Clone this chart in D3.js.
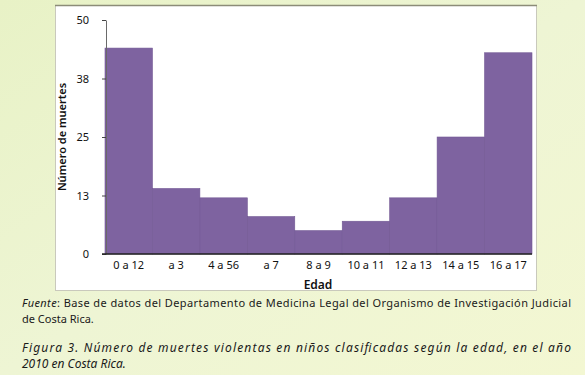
<!DOCTYPE html>
<html>
<head>
<meta charset="utf-8">
<script src="https://cdn.jsdelivr.net/npm/d3@7"></script>
<style>
  body { margin: 0; padding: 0; }
  svg { display: block; }
  .axis text { font-family: "Noto Sans", sans-serif; font-size: 11px; fill: #111; }
  .caption { font-family: "Noto Sans", sans-serif; fill: #1a1a1a; }
</style>
</head>
<body>
<svg id="chart" width="585" height="375"></svg>
<script>
var ageGroups = ['0 a 12', 'a 3', '4 a 56', 'a 7', '8 a 9', '10 a 11', '12 a 13', '14 a 15', '16 a 17']
var deaths = [44, 14, 12, 8, 5, 7, 12, 25, 43]
var yTicks = [0, 12.5, 25, 37.5, 50]
var yTickLabels = ['0', '13', '25', '38', '50']

var W = 585
,   H = 375
,   barColor = '#7e63a0'

var svg = d3.select('#chart')

// soft green page background
var defs = svg.append('defs')
var grad = defs.append('linearGradient')
  .attr('id', 'bg')
  .attr('x1', 0).attr('y1', 0).attr('x2', 1).attr('y2', 1)
grad.append('stop').attr('offset', '0%').attr('stop-color', '#e8f2c6')
grad.append('stop').attr('offset', '50%').attr('stop-color', '#eef5d4')
grad.append('stop').attr('offset', '100%').attr('stop-color', '#f3f7d2')

svg.append('rect')
  .attr('width', W).attr('height', H)
  .attr('fill', 'url(#bg)')

// white chart frame
svg.append('rect')
  .attr('x', 55.5).attr('y', 5.5)
  .attr('width', 481).attr('height', 285)
  .attr('fill', '#fff')
  .attr('stroke', '#c9c9bc')
svg.append('line')
  .attr('x1', 55).attr('x2', 537)
  .attr('y1', 5.5).attr('y2', 5.5)
  .attr('stroke', '#8c8c78')
  .attr('stroke-width', 1.5)

var x = d3.scaleBand()
  .domain(ageGroups)
  .range([105, 532])
  .padding(0)

var y = d3.scaleLinear()
  .domain([0, 50])
  .range([254, 20])

svg.selectAll('.bar')
  .data(deaths)
  .enter()
  .append('rect')
  .attr('class', 'bar')
  .attr('x', (d, i) => x(ageGroups[i]))
  .attr('y', (d) => y(d))
  .attr('width', x.bandwidth())
  .attr('height', (d) => y(0) - y(d))
  .attr('fill', barColor)
  .attr('stroke', '#725894')
  .attr('stroke-width', 0.6)

// y axis
var yAxis = svg.append('g')
  .attr('class', 'axis')
  .attr('transform', 'translate(106,0)')
  .call(d3.axisLeft(y)
    .tickValues(yTicks)
    .tickFormat((d, i) => yTickLabels[i])
    .tickSize(4)
    .tickSizeOuter(0)
    .tickPadding(13))
yAxis.select('.domain').attr('stroke', '#6a6a6a')
yAxis.selectAll('.tick line').attr('stroke', '#444')

// x axis
var xAxis = svg.append('g')
  .attr('class', 'axis')
  .attr('transform', 'translate(0,254)')
  .call(d3.axisBottom(x).tickSize(0).tickPadding(7))
xAxis.select('.domain').remove()
svg.append('line')
  .attr('x1', 102).attr('x2', 532)
  .attr('y1', 254).attr('y2', 254)
  .attr('stroke', '#222')
  .attr('stroke-width', 1.5)

// axis titles
svg.append('text')
  .attr('x', 318).attr('y', 289)
  .attr('text-anchor', 'middle')
  .attr('font-family', '"Noto Sans", sans-serif')
  .attr('font-size', 12)
  .attr('font-weight', 600)
  .attr('fill', '#111')
  .text('Edad')

svg.append('text')
  .attr('transform', 'translate(66,137) rotate(-90)')
  .attr('text-anchor', 'middle')
  .attr('font-family', '"Noto Sans", sans-serif')
  .attr('font-size', 11)
  .attr('font-weight', 600)
  .attr('fill', '#111')
  .text('Número de muertes')

// source + caption
var src1 = svg.append('text')
  .attr('class', 'caption')
  .attr('x', 22).attr('y', 307)
  .attr('font-size', 11)
  .attr('textLength', 549)
  .attr('lengthAdjust', 'spacing')
src1.append('tspan').attr('font-style', 'italic').text('Fuente')
src1.append('tspan').text(': Base de datos del Departamento de Medicina Legal del Organismo de Investigación Judicial')

svg.append('text')
  .attr('class', 'caption')
  .attr('x', 22).attr('y', 323)
  .attr('font-size', 11)
  .text('de Costa Rica.')

svg.append('text')
  .attr('class', 'caption')
  .attr('x', 22).attr('y', 352)
  .attr('font-size', 12)
  .attr('font-style', 'italic')
  .attr('textLength', 549)
  .attr('lengthAdjust', 'spacing')
  .text('Figura 3. Número de muertes violentas en niños clasificadas según la edad, en el año')

svg.append('text')
  .attr('class', 'caption')
  .attr('x', 22).attr('y', 368)
  .attr('font-size', 12)
  .attr('font-style', 'italic')
  .text('2010 en Costa Rica.')
</script>
</body>
</html>
